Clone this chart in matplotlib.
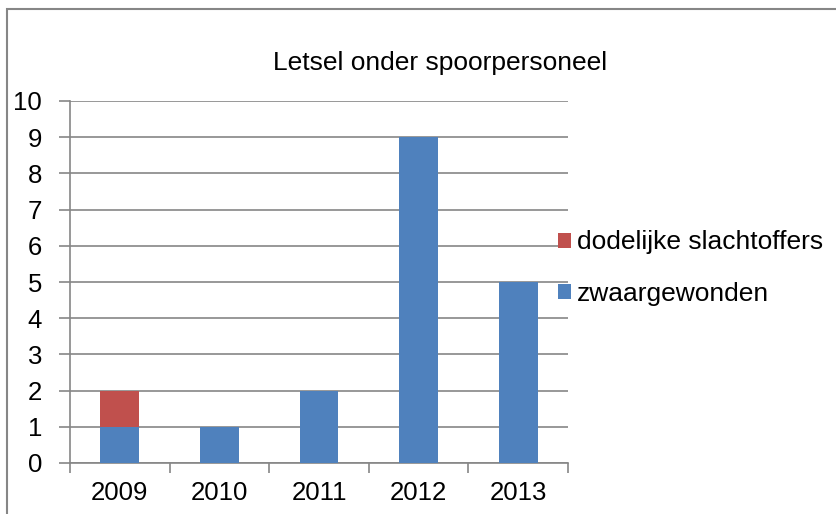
import matplotlib.pyplot as plt
from matplotlib.patches import Rectangle

plt.rcParams["font.family"] = ["Liberation Sans", "DejaVu Sans"]

years = ["2009", "2010", "2011", "2012", "2013"]
zwaargewonden = [1, 1, 2, 9, 5]
dodelijk = [1, 0, 0, 0, 0]

blue = "#4F81BD"
red = "#C0504D"
grey = "#868686"

fig = plt.figure(figsize=(8.36, 5.14), dpi=100)
ax = fig.add_axes([70 / 836, 1 - 463 / 514, 498 / 836, 362 / 514])

x = range(len(years))
b1 = ax.bar(x, zwaargewonden, width=0.39, color=blue, zorder=3)
b2 = ax.bar(x, dodelijk, width=0.39, bottom=zwaargewonden, color=red, zorder=3)

ax.set_xlim(-0.5, len(years) - 0.5)
ax.set_ylim(0, 10)
ax.set_yticks(range(0, 11))
ax.set_xticks(x)
ax.set_xticklabels(years)
ax.set_xticks([i - 0.5 for i in range(len(years) + 1)], minor=True)
ax.tick_params(axis="x", which="major", length=0, labelsize=18.5, pad=13)
ax.tick_params(axis="x", which="minor", length=7, color=grey, width=1.2)
ax.tick_params(axis="y", length=8, color=grey, width=1.2, labelsize=18.5, pad=12)
ax.yaxis.grid(True, color=grey, linewidth=1.2, zorder=0)

for side in ["top", "right"]:
    ax.spines[side].set_visible(False)
ax.spines["left"].set_color(grey)
ax.spines["bottom"].set_color(grey)
ax.spines["left"].set_linewidth(1.2)
ax.spines["bottom"].set_linewidth(1.2)

fig.text(440 / 836, 1 - 63 / 514, "Letsel onder spoorpersoneel",
         ha="center", va="center", fontsize=19)

fig.legend([b2, b1], ["dodelijke slachtoffers", "zwaargewonden"],
           loc="center left", bbox_to_anchor=(558 / 836, 1 - 268 / 514),
           frameon=False, fontsize=19, handlelength=0.49, handleheight=0.5,
           handletextpad=0.22, labelspacing=1.03, borderpad=0,
           borderaxespad=0)

fig.patches.append(Rectangle((7 / 836, -0.1), 1.2, 1.1 - 9 / 514,
                             transform=fig.transFigure, fill=False,
                             edgecolor=grey, linewidth=1.5))

fig.savefig("out.png", dpi=100)
